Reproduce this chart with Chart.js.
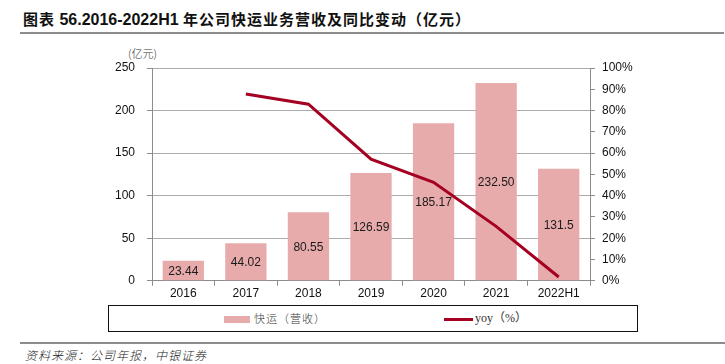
<!DOCTYPE html>
<html>
<head>
<meta charset="utf-8">
<script src="https://cdn.jsdelivr.net/npm/chart.js@4.4.1/dist/chart.umd.min.js"></script>
<style>
  html, body { margin: 0; padding: 0; background: #fff; }
  #wrap { position: relative; width: 725px; height: 364px; overflow: hidden; }
  #title { position: absolute; left: 23px; top: 9px; font-size: 15px; font-weight: bold; color: #111;
           font-family: "Noto Sans CJK SC", sans-serif; letter-spacing: 1px; white-space: nowrap; line-height: 20px; }
  #title .num { font-family: "Liberation Sans Narrow", "Liberation Sans", Arial, sans-serif; font-size: 16px; letter-spacing: 0; }
  #rule1 { position: absolute; left: 20px; top: 32px; width: 704px; height: 2px; background: #8c8c8c; }
  #unit { position: absolute; left: 128px; top: 45px; font-size: 11px; color: #333;
          font-family: "Noto Sans CJK SC", sans-serif; line-height: 16px; font-weight: 300; }
  canvas { position: absolute; left: 0; top: 0; }
  #legend { position: absolute; left: 108px; top: 305px; width: 528px; height: 25px; border: 1px solid #111; }
  .sw1 { position: absolute; left: 115px; top: 10px; width: 26px; height: 7px; background: #e8abab; }
  .tx1 { position: absolute; left: 145px; top: 4px; font-size: 11px; color: #333; line-height: 16px;
         font-family: "Noto Sans CJK SC", sans-serif; font-weight: 300; letter-spacing: 1px; }
  .sw2 { position: absolute; left: 335px; top: 12px; width: 29px; height: 3px; background: #a50021; }
  .tx2 { position: absolute; left: 366px; top: 4px; font-size: 12px; color: #333; line-height: 16px;
         font-family: "Liberation Serif", "Noto Sans CJK SC", serif; }
  #rule2 { position: absolute; left: 20px; top: 342px; width: 705px; height: 2px; background: #8c8c8c; }
  #src { position: absolute; left: 25px; top: 346px; font-size: 12px; font-style: italic; color: #222;
         font-family: "Noto Sans CJK SC", sans-serif; line-height: 17px; font-weight: 300; letter-spacing: 1px; }
</style>
</head>
<body>
<div id="wrap">
  <div id="title">图表 <span class="num">56.2016-2022H1</span> 年公司快运业务营收及同比变动（亿元）</div>
  <div id="rule1"></div>
  <div id="unit">(亿元)</div>
  <canvas id="chart" width="725" height="300"></canvas>
  <div id="legend">
    <div class="sw1"></div><div class="tx1">快运（营收）</div>
    <div class="sw2"></div><div class="tx2">yoy（%）</div>
  </div>
  <div id="rule2"></div>
  <div id="src">资料来源：公司年报，中银证券</div>
</div>
<script>
var years = ["2016", "2017", "2018", "2019", "2020", "2021", "2022H1"];
var revenue = [23.44, 44.02, 80.55, 126.59, 185.17, 232.50, 131.5];
var revenueLabels = ["23.44", "44.02", "80.55", "126.59", "185.17", "232.50", "131.5"];
var yoy = [null, 87.8, 83.0, 57.2, 46.3, 25.6, 1.8];

var barColor = "#e8abab";
var lineColor = "#a50021";
var axisColor = "#8c8c8c";

// labels in the middle of each bar
var barLabels = {
    id: "barLabels",
    afterDatasetsDraw: function (chart) {
        var meta = chart.getDatasetMeta(0);
        var c = chart.ctx;
        c.save();
        c.font = "12px 'Liberation Sans', Arial, sans-serif";
        c.fillStyle = "#1a1a1a";
        c.textAlign = "center";
        c.textBaseline = "middle";
        meta.data.forEach(function (bar, i) {
            c.fillText(revenueLabels[i], bar.x, (bar.y + bar.base) / 2 + 1);
        });
        c.restore();
    }
};

var tickFont = { family: "'Liberation Sans', Arial, sans-serif", size: 12 };

new Chart(document.getElementById("chart").getContext("2d"), {
    data: {
        labels: years,
        datasets: [{
            type: "bar",
            label: "快运（营收）",
            data: revenue,
            backgroundColor: barColor,
            borderWidth: 0,
            categoryPercentage: 1,
            barPercentage: 0.66,
            yAxisID: "y",
            order: 2
        }, {
            type: "line",
            label: "yoy（%）",
            data: yoy,
            borderColor: lineColor,
            borderWidth: 3,
            pointRadius: 0,
            tension: 0,
            fill: false,
            yAxisID: "y1",
            order: 1
        }]
    },
    options: {
        responsive: false,
        animation: false,
        layout: { padding: { top: 68, left: 0, right: 0, bottom: 0 } },
        plugins: {
            legend: { display: false },
            tooltip: { enabled: false }
        },
        scales: {
            x: {
                afterFit: function (s) { s.height = 19; },
                grid: { offset: true, drawOnChartArea: false, tickLength: 5, color: axisColor },
                border: { color: axisColor },
                ticks: { font: tickFont, color: "#111", padding: 1 }
            },
            y: {
                position: "left",
                min: 0,
                max: 250,
                afterFit: function (s) { s.width = 152; },
                ticks: { stepSize: 50, font: tickFont, color: "#111", padding: 12 },
                grid: {
                    color: function (ctx) { return ctx.tick && ctx.tick.value === 0 ? "rgba(0,0,0,0)" : "#ababab"; },
                    borderDash: [3, 2],
                    tickColor: axisColor,
                    tickBorderDash: [],
                    tickLength: 5
                },
                border: { color: axisColor }
            },
            y1: {
                position: "right",
                min: 0,
                max: 100,
                afterFit: function (s) { s.width = 135; },
                ticks: {
                    stepSize: 10,
                    font: tickFont,
                    color: "#111",
                    padding: 7,
                    callback: function (v) { return v + "%"; }
                },
                grid: { drawOnChartArea: false, tickLength: 5, color: axisColor },
                border: { color: axisColor }
            }
        }
    },
    plugins: [barLabels]
});
</script>
</body>
</html>
